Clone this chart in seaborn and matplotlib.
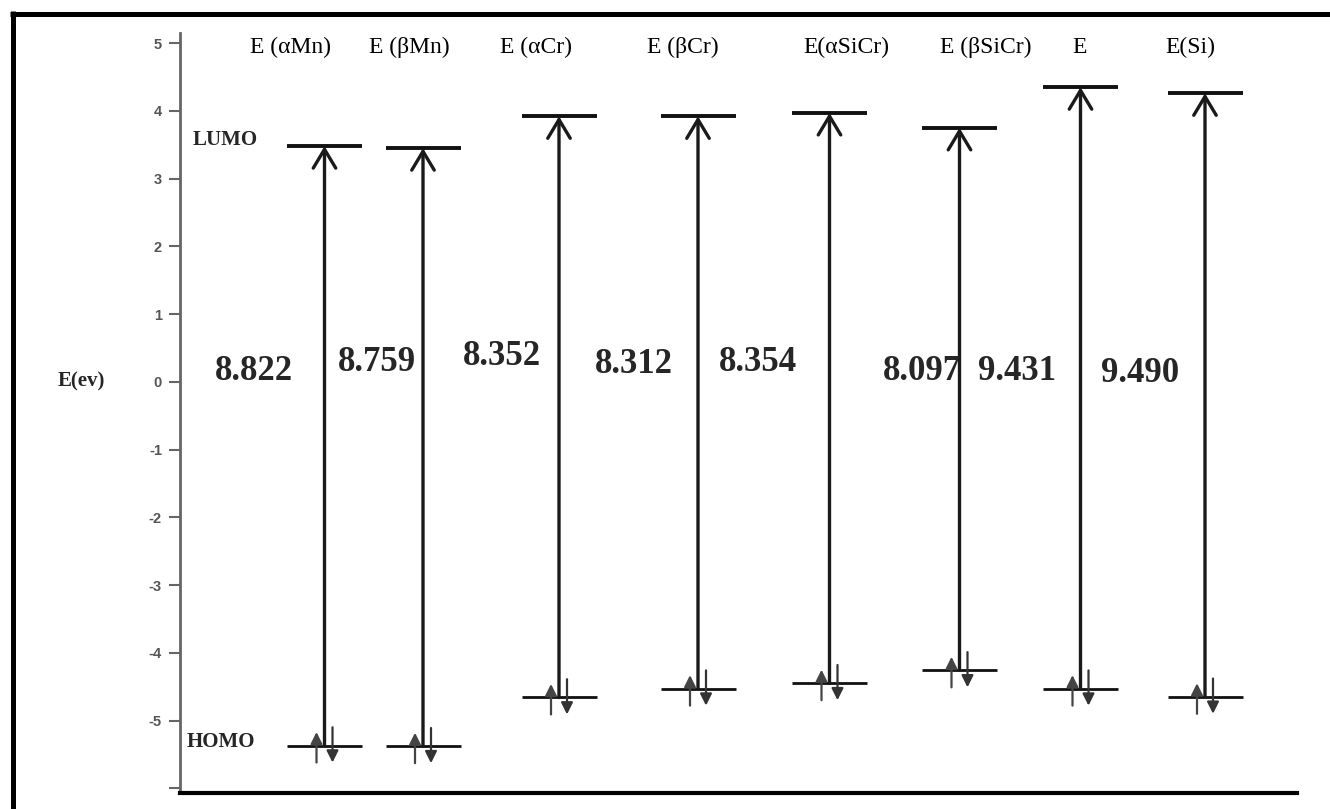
import matplotlib
matplotlib.use("Agg")
import matplotlib.pyplot as plt
import seaborn as sns
from matplotlib.lines import Line2D

# Frontier orbital energies (eV)
systems = ["E (αMn)", "E (βMn)", "E (αCr)", "E (βCr)", "E(αSiCr)", "E (βSiCr)", "E", "E(Si)"]
lumo = [3.48, 3.45, 3.92, 3.92, 3.97, 3.75, 4.35, 4.26]
homo = [-5.37, -5.38, -4.66, -4.53, -4.45, -4.26, -4.53, -4.65]
gap_labels = ["8.822", "8.759", "8.352", "8.312", "8.354", "8.097", "9.431", "9.490"]

# Layout (x in axis units, 1 unit ~ 100 px)
x_pos = [1.445, 2.43, 3.79, 5.18, 6.495, 7.795, 9.005, 10.25]
title_x = [1.10, 2.29, 3.56, 5.03, 6.66, 8.06, 9.00, 10.10]
gap_x = [0.74, 1.97, 3.22, 4.54, 5.78, 7.42, 8.37, 9.60]
gap_y = [0.16, 0.29, 0.37, 0.25, 0.29, 0.15, 0.15, 0.13]
half_w = 0.375

sns.set_style("white")
plt.rcParams["font.family"] = ["Liberation Serif", "DejaVu Serif"]

fig = plt.figure(figsize=(13.3, 8.09), dpi=100)
ax = fig.add_axes([180 / 1330, 1 - 793 / 809, 1117 / 1330, 760 / 809])
ax.set_xlim(0, 11.17)
ax.set_ylim(-6.07, 5.15)

lo = [x - half_w for x in x_pos]
hi = [x + half_w for x in x_pos]
ax.hlines(lumo, lo, hi, color="#111111", lw=2.8)
ax.hlines(homo, lo, hi, color="#111111", lw=2.0)

for x, l, h in zip(x_pos, lumo, homo):
    # excitation arrow HOMO -> LUMO
    ax.annotate("", xy=(x, l), xytext=(x, h),
                arrowprops=dict(arrowstyle="->,head_length=0.75,head_width=0.45",
                                mutation_scale=18, lw=2.4, color="#1a1a1a",
                                shrinkA=0, shrinkB=0))
    # paired electrons in HOMO
    ax.annotate("", xy=(x - 0.08, h + 0.2), xytext=(x - 0.08, h - 0.25),
                arrowprops=dict(arrowstyle="-|>,head_length=0.5,head_width=0.25",
                                mutation_scale=14, lw=1.6, color="#444444",
                                shrinkA=0, shrinkB=0))
    ax.annotate("", xy=(x + 0.08, h - 0.25), xytext=(x + 0.08, h + 0.27),
                arrowprops=dict(arrowstyle="-|>,head_length=0.5,head_width=0.25",
                                mutation_scale=14, lw=1.6, color="#333333",
                                shrinkA=0, shrinkB=0))

for tx, name in zip(title_x, systems):
    ax.text(tx, 4.94, name, ha="center", va="center", fontsize=17, color="black")

for gx, gy, lab in zip(gap_x, gap_y, gap_labels):
    ax.text(gx, gy, lab, ha="center", va="center", fontsize=25, fontweight="bold")

ax.text(0.13, 3.57, "LUMO", ha="left", va="center", fontsize=15, fontweight="bold")
ax.text(0.07, -5.31, "HOMO", ha="left", va="center", fontsize=15, fontweight="bold")
fig.text(81 / 1330, 1 - 381 / 809, "E(ev)", ha="center", va="center",
         fontsize=15, fontweight="bold")

# axes styling
sns.despine(ax=ax, top=True, right=True)
ax.spines["left"].set_color("#666666")
ax.spines["left"].set_linewidth(2)
ax.spines["bottom"].set_color("black")
ax.spines["bottom"].set_linewidth(3)
ax.set_xticks([])
ax.set_yticks(range(-6, 6))
ax.set_yticklabels([""] + [str(v) for v in range(-5, 6)],
                   fontfamily="Liberation Sans", fontweight="bold")
ax.tick_params(axis="y", left=True, length=8, width=1.5, color="#666666",
               labelcolor="#555555", labelsize=10.5, pad=5)

# thick outer frame (top and left only)
fig.add_artist(Line2D([10 / 1330, 1], [1 - 13.5 / 809] * 2, lw=3.6,
                      color="black", solid_capstyle="butt",
                      transform=fig.transFigure))
fig.add_artist(Line2D([12.5 / 1330] * 2, [0, 1 - 11 / 809], lw=3.6,
                      color="black", solid_capstyle="butt",
                      transform=fig.transFigure))

fig.savefig("out.png", dpi=100)
